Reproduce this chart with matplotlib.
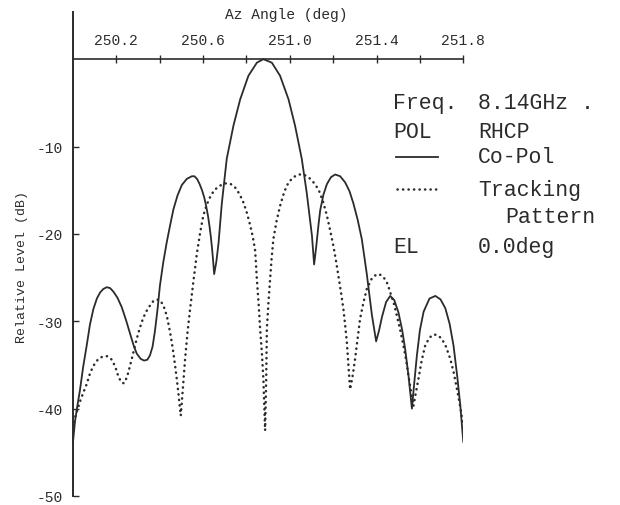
import matplotlib.pyplot as plt
from matplotlib.lines import Line2D

# Az angle (deg) / relative level (dB)
co_az = [250.000, 250.009, 250.020, 250.032, 250.047, 250.063, 250.078, 250.094,
         250.110, 250.125, 250.140, 250.156, 250.171, 250.186, 250.205, 250.225,
         250.245, 250.263, 250.280, 250.294, 250.312, 250.328, 250.343, 250.355,
         250.367, 250.378, 250.390, 250.401, 250.416, 250.432, 250.448, 250.463,
         250.482, 250.502, 250.525, 250.548, 250.560, 250.572, 250.584, 250.595,
         250.605, 250.614, 250.623, 250.630, 250.636, 250.641, 250.646, 250.651,
         250.661, 250.671, 250.686, 250.709, 250.740, 250.771, 250.809, 250.848,
         250.878, 250.917, 250.955, 250.994, 251.024, 251.055, 251.078, 251.102,
         251.112, 251.122, 251.132, 251.140, 251.155, 251.171, 251.190, 251.209,
         251.232, 251.255, 251.275, 251.293, 251.313, 251.332, 251.355, 251.378,
         251.398, 251.412, 251.425, 251.444, 251.463, 251.482, 251.501, 251.518,
         251.532, 251.548, 251.563, 251.574, 251.586, 251.600, 251.617, 251.644,
         251.671, 251.695, 251.717, 251.737, 251.755, 251.772, 251.786, 251.800]
co_db = [-43.8, -41.5, -39.7, -37.9, -35.2, -32.8, -30.4, -28.6,
         -27.4, -26.7, -26.3, -26.1, -26.2, -26.6, -27.3, -28.4,
         -29.9, -31.4, -32.8, -33.7, -34.3, -34.5, -34.4, -33.9,
         -32.9, -31.1, -28.6, -25.9, -23.3, -21.0, -19.0, -17.2,
         -15.6, -14.4, -13.7, -13.4, -13.4, -13.7, -14.3, -15.0,
         -15.8, -16.8, -18.0, -19.2, -20.4, -21.6, -23.0, -24.6,
         -23.2, -21.1, -16.6, -11.4, -7.6, -4.6, -1.9, -0.4,
         0.0, -0.4, -1.9, -4.6, -7.6, -11.4, -15.3, -20.2,
         -23.5, -21.4, -19.0, -17.3, -15.5, -14.3, -13.5, -13.2,
         -13.4, -14.1, -15.1, -16.5, -18.4, -20.6, -24.6, -29.2,
         -32.3, -31.0, -29.5, -27.8, -27.1, -27.6, -29.0, -31.0,
         -33.2, -36.4, -40.0, -37.0, -33.9, -31.0, -28.9, -27.4,
         -27.1, -27.5, -28.5, -30.3, -32.8, -36.3, -39.6, -43.8]

trk_az = [250.003, 250.017, 250.032, 250.047, 250.063, 250.078, 250.094, 250.117,
          250.140, 250.160, 250.179, 250.195, 250.209, 250.223, 250.235, 250.249,
          250.263, 250.279, 250.294, 250.309, 250.324, 250.340, 250.355, 250.370,
          250.386, 250.402, 250.417, 250.433, 250.448, 250.460, 250.471, 250.479,
          250.486, 250.492, 250.497, 250.507, 250.517, 250.528, 250.540, 250.556,
          250.571, 250.586, 250.601, 250.616, 250.632, 250.651, 250.671, 250.690,
          250.709, 250.728, 250.748, 250.767, 250.786, 250.802, 250.817, 250.829,
          250.840, 250.848, 250.856, 250.863, 250.871, 250.878, 250.886, 250.891,
          250.894, 250.901, 250.909, 250.916, 250.924, 250.939, 250.955, 250.974,
          250.994, 251.017, 251.040, 251.063, 251.086, 251.109, 251.132, 251.152,
          251.171, 251.186, 251.201, 251.213, 251.224, 251.236, 251.247, 251.255,
          251.263, 251.270, 251.278, 251.290, 251.301, 251.313, 251.324, 251.340,
          251.355, 251.378, 251.401, 251.420, 251.440, 251.452, 251.463, 251.479,
          251.494, 251.509, 251.524, 251.536, 251.547, 251.558, 251.570, 251.581,
          251.593, 251.608, 251.624, 251.643, 251.663, 251.682, 251.701, 251.720,
          251.740, 251.756, 251.771, 251.786, 251.800]
trk_db = [-41.5, -40.4, -39.2, -38.2, -37.2, -36.0, -35.1, -34.3,
          -34.0, -34.0, -34.4, -35.2, -36.3, -37.0, -37.1, -36.4,
          -35.1, -33.5, -32.0, -30.7, -29.6, -28.8, -28.2, -27.7,
          -27.5, -27.6, -28.2, -29.4, -31.3, -33.1, -35.1, -36.7,
          -38.2, -39.7, -40.8, -37.6, -34.3, -31.3, -28.6, -25.3,
          -22.3, -19.9, -17.9, -16.7, -15.8, -15.0, -14.6, -14.3,
          -14.2, -14.3, -14.7, -15.4, -16.4, -17.6, -19.0, -20.3,
          -21.9, -25.2, -28.0, -30.9, -33.6, -36.6, -42.5, -36.6,
          -30.9, -28.0, -25.2, -22.8, -20.6, -18.5, -16.8, -15.2,
          -14.1, -13.5, -13.2, -13.2, -13.5, -14.1, -14.9, -16.2,
          -17.9, -19.6, -21.4, -23.1, -24.8, -26.7, -28.6, -30.4,
          -32.4, -35.0, -37.8, -36.2, -34.3, -31.9, -29.7, -27.8,
          -26.3, -25.1, -24.6, -24.7, -25.2, -25.8, -26.7, -27.9,
          -29.4, -31.0, -32.8, -34.4, -36.2, -37.9, -39.7, -38.2,
          -36.6, -34.5, -32.8, -31.9, -31.5, -31.6, -32.0, -32.9,
          -34.3, -35.9, -37.8, -39.8, -42.0]

az_labeled = [250.2, 250.6, 251.0, 251.4, 251.8]
az_minor = [250.4, 250.8, 251.2, 251.6]
db_ticks = [-50, -40, -30, -20, -10]

ink = "#2b2b2b"
mono = "Liberation Mono"
dots = (0, (0.1, 2.1))

fig = plt.figure(figsize=(6.2, 5.06), dpi=100)
ax = fig.add_axes([73 / 620, 9 / 506, 390.3 / 620, 484 / 506])

ax.plot(co_az, co_db, color=ink, lw=1.3, solid_joinstyle="round")
ax.plot(trk_az, trk_db, color=ink, lw=1.8, linestyle=dots,
        dash_capstyle="round")

ax.set_xlim(250.0, 251.8)
ax.set_ylim(-50, 5.4)

for side in ["bottom", "right"]:
    ax.spines[side].set_visible(False)
ax.spines["top"].set_position(("data", 0))
ax.spines["top"].set_color(ink)
ax.spines["left"].set_color(ink)
ax.spines["top"].set_linewidth(1.2)
ax.spines["left"].set_linewidth(1.4)

ax.xaxis.set_ticks_position("top")
ax.set_xticks(az_labeled)
ax.set_xticks(az_minor, minor=True)
ax.set_xticklabels([f"{v:.1f}" for v in az_labeled])
ax.tick_params(axis="x", which="both", direction="inout", length=6,
               width=1.0, color=ink, pad=6)
ax.tick_params(axis="x", labelsize=10.5, labelcolor=ink)
for lab in ax.get_xticklabels():
    lab.set_fontfamily(mono)

ax.set_yticks(db_ticks)
ax.set_yticklabels([str(v) for v in db_ticks])
ax.tick_params(axis="y", direction="in", length=4, width=1.0, color=ink,
               pad=7, labelsize=10.5, labelcolor=ink)
for lab in ax.get_yticklabels():
    lab.set_fontfamily(mono)

fig.text(286 / 620, 1 - 15 / 506, "Az Angle (deg)", ha="center", va="center",
         fontsize=10.5, family=mono, color=ink)
fig.text(22 / 620, 1 - 267 / 506, "Relative Level (dB)", ha="center",
         va="center", rotation=90, fontsize=9.5, family=mono, color=ink)

# annotation block on the right
lx, rx = 393 / 620, 478 / 620
rows = [(109, "Freq.", "8.14GHz ."), (138, "POL", "RHCP"),
        (163, None, "Co-Pol"), (196, None, "Tracking"), (253, "EL", "0.0deg")]
for y, left, right in rows:
    if left:
        fig.text(lx, 1 - y / 506, left, fontsize=15.5, family=mono, color=ink,
                 va="baseline")
    fig.text(rx, 1 - y / 506, right, fontsize=15.5, family=mono, color=ink,
             va="baseline")
fig.text(505 / 620, 1 - 223 / 506, "Pattern", fontsize=15.5, family=mono,
         color=ink, va="baseline")

fig.add_artist(Line2D([396 / 620, 438 / 620], [1 - 158 / 506] * 2,
                      color=ink, lw=1.3, transform=fig.transFigure))
fig.add_artist(Line2D([397 / 620, 440 / 620], [1 - 190 / 506] * 2,
                      color=ink, lw=1.8, linestyle=dots,
                      dash_capstyle="round", transform=fig.transFigure))

fig.savefig("out.png", dpi=100)
